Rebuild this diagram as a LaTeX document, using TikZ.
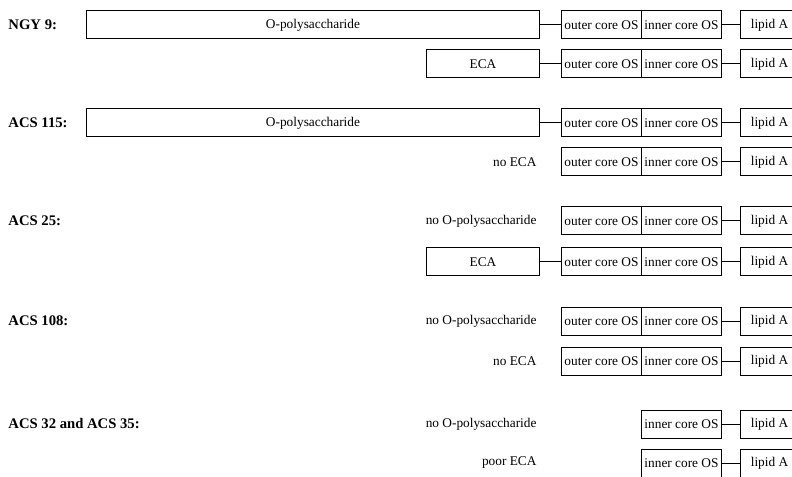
\documentclass[tikz,border=0pt]{standalone}
\usepackage{fontspec}
\setmainfont{Liberation Serif}

\tikzset{every picture/.style={line width=0.75pt}}
\tikzset{
  corebox/.style={draw, anchor=west, minimum width=60pt, minimum height=21pt, inner sep=0.75pt, font=\fontsize{10}{12}\selectfont},
  lipidbox/.style={draw, anchor=west, minimum width=43.5pt, minimum height=21pt, inner sep=0.75pt, font=\fontsize{10}{12}\selectfont},
  polybox/.style={draw, anchor=east, minimum width=339.75pt, minimum height=21pt, inner sep=0.75pt, font=\fontsize{10}{12}\selectfont},
  ecabox/.style={draw, anchor=east, minimum width=84.75pt, minimum height=21pt, inner sep=0.75pt, font=\fontsize{10}{12}\selectfont},
  strainlabel/.style={anchor=west, inner sep=0.75pt, font=\fontsize{11}{13}\selectfont\bfseries},
  notelabel/.style={anchor=east, inner sep=0.75pt, font=\fontsize{10}{12}\selectfont}
}

\begin{document}
\begin{tikzpicture}[x=0.75pt,y=0.75pt,yscale=-1,xscale=1]
		\useasboundingbox (0,0) rectangle (792,477);

		% NGY 9
		\node [strainlabel] (ngy) at (7,25) {NGY 9:};
		\node [polybox] (opolyA) at (540,25) {O-polysaccharide};
		\node [corebox] (outerA) at (561,25) {outer core OS};
		\node [corebox] (innerA) at (641,25) {inner core OS};
		\node [lipidbox] (lipidA) at (740,25) {lipid A};
		\draw (opolyA) -- (outerA);
		\draw (innerA) -- (lipidA);

		\node [ecabox] (ecaB) at (540,64) {ECA};
		\node [corebox] (outerB) at (561,64) {outer core OS};
		\node [corebox] (innerB) at (641,64) {inner core OS};
		\node [lipidbox] (lipidB) at (740,64) {lipid A};
		\draw (ecaB) -- (outerB);
		\draw (innerB) -- (lipidB);

		% ACS 115
		\node [strainlabel] (acsA) at (7,123) {ACS 115:};
		\node [polybox] (opolyC) at (540,123) {O-polysaccharide};
		\node [corebox] (outerC) at (561,123) {outer core OS};
		\node [corebox] (innerC) at (641,123) {inner core OS};
		\node [lipidbox] (lipidC) at (740,123) {lipid A};
		\draw (opolyC) -- (outerC);
		\draw (innerC) -- (lipidC);

		\node [notelabel] (noteD) at (538,162) {no ECA};
		\node [corebox] (outerD) at (561,162) {outer core OS};
		\node [corebox] (innerD) at (641,162) {inner core OS};
		\node [lipidbox] (lipidD) at (740,162) {lipid A};
		\draw (innerD) -- (lipidD);

		% ACS 25
		\node [strainlabel] (acsB) at (7,221) {ACS 25:};
		\node [notelabel] (noteE) at (538,221) {no O-polysaccharide};
		\node [corebox] (outerE) at (561,221) {outer core OS};
		\node [corebox] (innerE) at (641,221) {inner core OS};
		\node [lipidbox] (lipidE) at (740,221) {lipid A};
		\draw (innerE) -- (lipidE);

		\node [ecabox] (ecaF) at (540,262) {ECA};
		\node [corebox] (outerF) at (561,262) {outer core OS};
		\node [corebox] (innerF) at (641,262) {inner core OS};
		\node [lipidbox] (lipidF) at (740,262) {lipid A};
		\draw (ecaF) -- (outerF);
		\draw (innerF) -- (lipidF);

		% ACS 108
		\node [strainlabel] (acsC) at (7,321) {ACS 108:};
		\node [notelabel] (noteG) at (538,321) {no O-polysaccharide};
		\node [corebox] (outerG) at (561,321) {outer core OS};
		\node [corebox] (innerG) at (641,321) {inner core OS};
		\node [lipidbox] (lipidG) at (740,321) {lipid A};
		\draw (innerG) -- (lipidG);

		\node [notelabel] (noteH) at (538,361) {no ECA};
		\node [corebox] (outerH) at (561,361) {outer core OS};
		\node [corebox] (innerH) at (641,361) {inner core OS};
		\node [lipidbox] (lipidH) at (740,361) {lipid A};
		\draw (innerH) -- (lipidH);

		% ACS 32 and ACS 35
		\node [strainlabel] (acsD) at (7,424) {ACS 32 and ACS 35:};
		\node [notelabel] (noteI) at (538,424) {no O-polysaccharide};
		\node [corebox] (innerI) at (641,424) {inner core OS};
		\node [lipidbox] (lipidI) at (740,424) {lipid A};
		\draw (innerI) -- (lipidI);

		\node [notelabel] (noteJ) at (538,463) {poor ECA};
		\node [corebox] (innerJ) at (641,463) {inner core OS};
		\node [lipidbox] (lipidJ) at (740,463) {lipid A};
		\draw (innerJ) -- (lipidJ);

	\end{tikzpicture}
\end{document}
